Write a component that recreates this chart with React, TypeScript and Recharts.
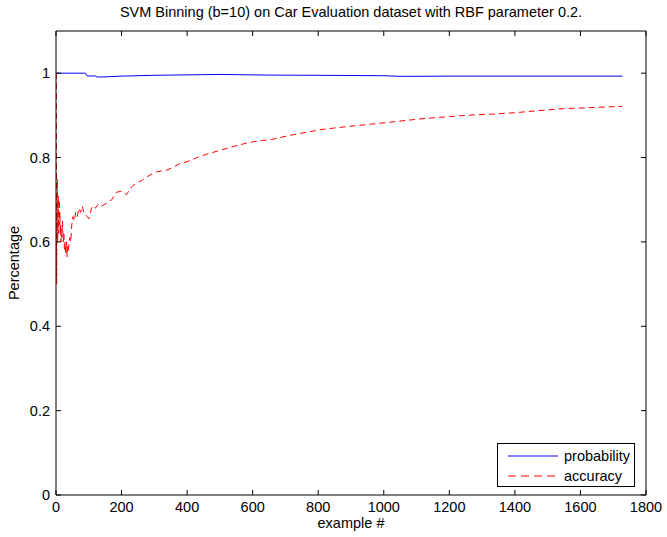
import React from 'react';
import { LineChart, Line, XAxis, YAxis, Legend } from 'recharts';

const title = 'SVM Binning (b=10) on Car Evaluation dataset with RBF parameter 0.2.';
const xLabel = 'example #';
const yLabel = 'Percentage';
const xTicks = [0, 200, 400, 600, 800, 1000, 1200, 1400, 1600, 1800];
const yTicks = [0, 0.2, 0.4, 0.6, 0.8, 1];

const probability = [
  { x: 1, v: 1.0 }, { x: 90, v: 1.0 }, { x: 95, v: 0.9935 }, { x: 120, v: 0.9935 },
  { x: 125, v: 0.991 }, { x: 140, v: 0.991 }, { x: 200, v: 0.993 }, { x: 300, v: 0.995 },
  { x: 400, v: 0.996 }, { x: 500, v: 0.997 }, { x: 600, v: 0.996 }, { x: 650, v: 0.9955 },
  { x: 800, v: 0.995 }, { x: 1000, v: 0.994 }, { x: 1050, v: 0.9925 }, { x: 1200, v: 0.993 },
  { x: 1400, v: 0.993 }, { x: 1600, v: 0.993 }, { x: 1728, v: 0.993 },
];

const accuracy = [
  { x: 1, v: 1.0 }, { x: 2, v: 0.5 }, { x: 3, v: 0.67 }, { x: 4, v: 0.75 }, { x: 5, v: 0.6 },
  { x: 6, v: 0.67 }, { x: 7, v: 0.71 }, { x: 8, v: 0.62 }, { x: 9, v: 0.67 }, { x: 10, v: 0.7 },
  { x: 11, v: 0.64 }, { x: 12, v: 0.67 }, { x: 13, v: 0.62 }, { x: 14, v: 0.64 }, { x: 15, v: 0.6 },
  { x: 16, v: 0.63 }, { x: 18, v: 0.61 }, { x: 20, v: 0.65 }, { x: 22, v: 0.6 }, { x: 24, v: 0.62 },
  { x: 26, v: 0.58 }, { x: 28, v: 0.6 }, { x: 30, v: 0.57 }, { x: 32, v: 0.6 }, { x: 34, v: 0.565 },
  { x: 36, v: 0.59 }, { x: 38, v: 0.58 }, { x: 40, v: 0.6 }, { x: 42, v: 0.61 }, { x: 45, v: 0.6 },
  { x: 48, v: 0.64 }, { x: 52, v: 0.66 }, { x: 56, v: 0.65 }, { x: 60, v: 0.67 }, { x: 65, v: 0.66 },
  { x: 70, v: 0.68 }, { x: 75, v: 0.67 }, { x: 80, v: 0.685 }, { x: 85, v: 0.67 }, { x: 90, v: 0.665 },
  { x: 95, v: 0.66 }, { x: 100, v: 0.655 }, { x: 105, v: 0.67 }, { x: 110, v: 0.685 }, { x: 120, v: 0.68 },
  { x: 130, v: 0.69 }, { x: 140, v: 0.685 }, { x: 155, v: 0.692 }, { x: 170, v: 0.7 }, { x: 185, v: 0.718 },
  { x: 200, v: 0.72 }, { x: 215, v: 0.712 }, { x: 230, v: 0.73 }, { x: 246, v: 0.74 }, { x: 260, v: 0.745 },
  { x: 277, v: 0.754 }, { x: 290, v: 0.76 }, { x: 307, v: 0.766 }, { x: 320, v: 0.768 }, { x: 338, v: 0.77 },
  { x: 360, v: 0.778 }, { x: 378, v: 0.786 }, { x: 400, v: 0.79 }, { x: 430, v: 0.8 }, { x: 460, v: 0.808 },
  { x: 500, v: 0.817 }, { x: 540, v: 0.826 }, { x: 580, v: 0.834 }, { x: 620, v: 0.84 }, { x: 653, v: 0.842 },
  { x: 704, v: 0.851 }, { x: 750, v: 0.858 }, { x: 815, v: 0.867 }, { x: 860, v: 0.871 }, { x: 906, v: 0.875 },
  { x: 960, v: 0.879 }, { x: 1020, v: 0.884 }, { x: 1080, v: 0.889 }, { x: 1131, v: 0.893 }, { x: 1200, v: 0.897 },
  { x: 1270, v: 0.901 }, { x: 1330, v: 0.903 }, { x: 1395, v: 0.906 }, { x: 1470, v: 0.911 }, { x: 1548, v: 0.916 },
  { x: 1620, v: 0.918 }, { x: 1680, v: 0.92 }, { x: 1728, v: 0.921 },
];

const FONT = '"Liberation Sans", Arial, Helvetica, sans-serif';
const FS = 14.5;
const TL = 5;

const LeftTick = (p: any) => (
  <g>
    <line x1={p.x} x2={p.x + TL} y1={p.y} y2={p.y} stroke="#000" />
    <text x={p.x - 6} y={p.y} dy={5} textAnchor="end" fontSize={FS} fontFamily={FONT} fill="#000">
      {String(p.payload.value)}
    </text>
  </g>
);
const RightTick = (p: any) => (
  <line x1={p.x} x2={p.x - TL} y1={p.y} y2={p.y} stroke="#000" />
);
const BottomTick = (p: any) => (
  <g>
    <line x1={p.x} x2={p.x} y1={p.y} y2={p.y - TL} stroke="#000" />
    <text x={p.x} y={p.y + 17} textAnchor="middle" fontSize={FS} fontFamily={FONT} fill="#000">
      {String(p.payload.value)}
    </text>
  </g>
);
const TopTick = (p: any) => (
  <line x1={p.x} x2={p.x} y1={p.y} y2={p.y + TL} stroke="#000" />
);

const LegendBox = () => (
  <div
    style={{
      position: 'absolute', left: 497, top: 443, width: 138, height: 44,
      border: '1px solid #000', background: '#fff', boxSizing: 'border-box',
      fontFamily: FONT, fontSize: FS, color: '#000',
    }}
  >
    <svg width={136} height={42} style={{ position: 'absolute', left: 0, top: 0 }}>
      <line x1={10} x2={60} y1={12} y2={12} stroke="#0000ff" />
      <line x1={10} x2={60} y1={32} y2={32} stroke="#ff0000" strokeDasharray="8 5" />
      <text x={66} y={17} fontSize={FS} fontFamily={FONT}>probability</text>
      <text x={66} y={37} fontSize={FS} fontFamily={FONT}>accuracy</text>
    </svg>
  </div>
);

export default function App() {
  return (
    <div style={{ position: 'absolute', left: 0, top: 0, width: 667, height: 537, background: '#fff' }}>
      <div style={{ position: 'absolute', left: 0, top: 4, width: 702, textAlign: 'center', fontFamily: FONT, fontSize: FS, lineHeight: '17px' }}>
        {title}
      </div>
      <div style={{ position: 'absolute', left: 0, top: 515, width: 702, textAlign: 'center', fontFamily: FONT, fontSize: FS, lineHeight: '17px' }}>
        {xLabel}
      </div>
      <div
        style={{
          position: 'absolute', left: 14, top: 263, fontFamily: FONT, fontSize: FS,
          transform: 'translate(-50%, -50%) rotate(-90deg)', whiteSpace: 'nowrap',
        }}
      >
        {yLabel}
      </div>
      <LineChart
        width={667}
        height={537}
        margin={{ top: 0, right: 0, bottom: 0, left: 0 }}
        style={{ position: 'absolute', left: 0, top: 0 }}
      >
        <XAxis
          xAxisId="b" dataKey="x" type="number" domain={[0, 1800]} ticks={xTicks}
          orientation="bottom" height={42} tickSize={0} tickMargin={0} tickLine={false}
          tick={<BottomTick />} stroke="#000" allowDataOverflow interval={0}
        />
        <XAxis
          xAxisId="t" dataKey="x" type="number" domain={[0, 1800]} ticks={xTicks}
          orientation="top" height={31} tickSize={0} tickMargin={0} tickLine={false}
          tick={<TopTick />} stroke="#000" allowDataOverflow interval={0}
        />
        <YAxis
          yAxisId="l" dataKey="v" type="number" domain={[0, 1.1]} ticks={yTicks}
          orientation="left" width={56} tickSize={0} tickMargin={0} tickLine={false}
          tick={<LeftTick />} stroke="#000" allowDataOverflow interval={0}
        />
        <YAxis
          yAxisId="r" dataKey="v" type="number" domain={[0, 1.1]} ticks={yTicks}
          orientation="right" width={21} tickSize={0} tickMargin={0} tickLine={false}
          tick={<RightTick />} stroke="#000" allowDataOverflow interval={0}
        />
        <Line
          xAxisId="b" yAxisId="l" data={probability} dataKey="v" name="probability"
          stroke="#0000ff" strokeWidth={1} dot={false} isAnimationActive={false} type="linear"
        />
        <Line
          xAxisId="b" yAxisId="l" data={accuracy} dataKey="v" name="accuracy"
          stroke="#ff0000" strokeWidth={1} strokeDasharray="6 4" dot={false} isAnimationActive={false} type="linear"
        />
        <Line
          xAxisId="t" yAxisId="r" data={probability} dataKey="v" stroke="none" dot={false}
          isAnimationActive={false} legendType="none"
        />
        <Legend content={<LegendBox />} wrapperStyle={{ position: 'absolute', left: 0, top: 0, width: 0, height: 0 }} />
      </LineChart>
    </div>
  );
}
